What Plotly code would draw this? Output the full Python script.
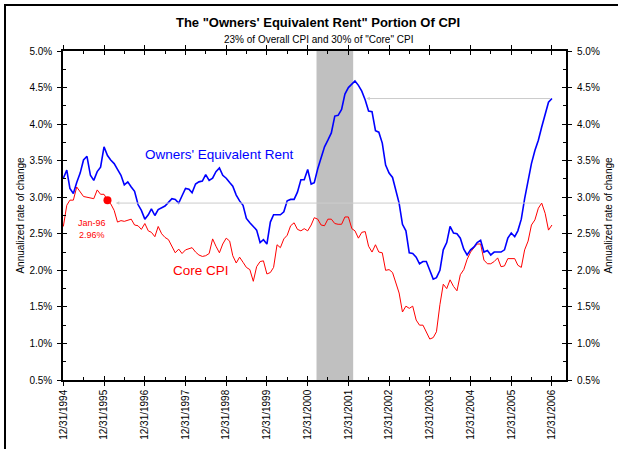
import plotly.graph_objects as go
import pandas as pd

# Monthly observations, Dec-1994 .. Dec-2006 (annualized rate of change, %)
dates = pd.date_range("1995-01-01", periods=145, freq="MS") - pd.Timedelta(days=1)

oer = [3.26, 3.37, 3.12, 3.05, 3.20, 3.33, 3.51, 3.56, 3.30, 3.23,
       3.35, 3.41, 3.69, 3.57, 3.51, 3.46, 3.38, 3.30, 3.17, 3.21,
       3.14, 3.08, 2.90, 2.82, 2.70, 2.76, 2.84, 2.75, 2.83, 2.86,
       2.88, 2.93, 2.98, 2.97, 2.92, 3.02, 3.12, 3.11, 3.06, 3.18,
       3.21, 3.22, 3.31, 3.23, 3.26, 3.35, 3.40, 3.30, 3.26, 3.20,
       3.15, 3.03, 2.95, 2.89, 2.71, 2.65, 2.60, 2.55, 2.38, 2.42,
       2.36, 2.66, 2.76, 2.76, 2.76, 2.80, 2.95, 2.97, 2.97, 3.07,
       3.24, 3.24, 3.38, 3.18, 3.20, 3.39, 3.54, 3.69, 3.78, 3.88,
       4.11, 4.12, 4.20, 4.41, 4.50, 4.55, 4.59, 4.53, 4.45, 4.33,
       4.18, 4.17, 3.91, 3.89, 3.74, 3.44, 3.33, 3.27, 3.12, 2.92,
       2.63, 2.54, 2.24, 2.23, 2.18, 2.09, 2.12, 2.12, 2.00, 1.88,
       1.90, 2.00, 2.28, 2.38, 2.60, 2.51, 2.50, 2.44, 2.29, 2.21,
       2.28, 2.32, 2.38, 2.41, 2.25, 2.27, 2.21, 2.25, 2.25, 2.25,
       2.28, 2.44, 2.51, 2.46, 2.54, 2.70, 2.98, 3.23, 3.46, 3.64,
       3.78, 3.96, 4.14, 4.30, 4.35]

core = [2.60, 2.89, 2.96, 2.96, 3.14, 3.07, 3.01, 3.00, 2.99, 2.98,
        3.10, 3.04, 3.04, 2.96, 2.91, 2.82, 2.66, 2.68, 2.67, 2.68,
        2.70, 2.62, 2.61, 2.56, 2.64, 2.54, 2.52, 2.46, 2.60, 2.50,
        2.45, 2.42, 2.32, 2.24, 2.29, 2.23, 2.28, 2.30, 2.31, 2.25,
        2.21, 2.19, 2.20, 2.23, 2.43, 2.33, 2.24, 2.36, 2.44, 2.40,
        2.20, 2.10, 2.18, 2.11, 2.04, 2.01, 1.85, 2.05, 2.12, 2.13,
        1.95, 1.97, 2.04, 2.35, 2.31, 2.43, 2.48, 2.61, 2.65, 2.56,
        2.54, 2.57, 2.54, 2.62, 2.72, 2.70, 2.62, 2.61, 2.70, 2.70,
        2.64, 2.63, 2.63, 2.73, 2.73, 2.57, 2.54, 2.44, 2.52, 2.53,
        2.33, 2.25, 2.35, 2.25, 2.24, 2.00, 2.01, 1.97, 1.83, 1.69,
        1.43, 1.51, 1.48, 1.51, 1.32, 1.25, 1.25, 1.15, 1.06, 1.08,
        1.16, 1.53, 1.81, 1.75, 1.87, 1.78, 1.72, 1.94, 2.01, 2.15,
        2.25, 2.31, 2.36, 2.36, 2.14, 2.09, 2.09, 2.12, 2.17, 2.05,
        2.06, 2.16, 2.16, 2.16, 2.07, 2.04, 2.28, 2.40, 2.62, 2.69,
        2.85, 2.92, 2.78, 2.55, 2.62]

year_ticks = [f"{y}-12-31" for y in range(1994, 2007)]
year_labels = [f"12/31/{y}" for y in range(1994, 2007)]
mid_ticks = [f"{y}-07-01" for y in range(1995, 2008)]
y_ticks = [0.5, 1.0, 1.5, 2.0, 2.5, 3.0, 3.5, 4.0, 4.5, 5.0]
y_labels = [f"{v:.1f}%" for v in y_ticks]
y_minor = [0.75, 1.25, 1.75, 2.25, 2.75, 3.25, 3.75, 4.25, 4.75]

recession = ("2001-03-20", "2002-02-12")
x_range = ["1994-12-28", "2007-05-06"]
y_range = [0.5, 5.0]

FONT = "Arial, Liberation Sans, sans-serif"
L, R, T, B = 63, 566, 51, 380
PW, PH = R - L, B - T

fig = go.Figure()
fig.add_trace(go.Scatter(x=dates, y=core, mode="lines", name="Core CPI",
                         line=dict(color="#ff0000", width=1)))
fig.add_trace(go.Scatter(x=dates, y=oer, mode="lines", name="Owners' Equivalent Rent",
                         line=dict(color="#0000ff", width=1.6)))
fig.add_trace(go.Scatter(x=[dates[13]], y=[core[13]], mode="markers",
                         marker=dict(color="#ff0000", size=8), showlegend=False))
# helper traces so that the overlay axes exist
fig.add_trace(go.Scatter(x=[None], y=[None], xaxis="x2", yaxis="y", showlegend=False, hoverinfo="skip"))
fig.add_trace(go.Scatter(x=[None], y=[None], xaxis="x", yaxis="y2", showlegend=False, hoverinfo="skip"))
fig.add_trace(go.Scatter(x=[None], y=[None], xaxis="x", yaxis="y3", showlegend=False, hoverinfo="skip"))

fig.add_shape(type="rect", xref="x", yref="paper", x0=recession[0], x1=recession[1],
              y0=0, y1=1, fillcolor="#c0c0c0", line=dict(width=0), layer="below")


def px(x):
    return (x - L) / PW


def py(y):
    return (B - y) / PH


# outer frame
fig.add_shape(type="rect", xref="paper", yref="paper",
              x0=px(5), x1=px(640), y0=py(470), y1=py(5),
              line=dict(color="black", width=2), fillcolor="rgba(0,0,0,0)")

# reference arrows
fig.add_annotation(x="1996-04-15", y=core[141], ax=dates[141], ay=core[141],
                   xref="x", yref="y", axref="x", ayref="y", text="", showarrow=True,
                   arrowhead=2, arrowsize=0.7, arrowwidth=1, arrowcolor="#cccccc", standoff=0)
fig.add_annotation(x="2002-06-10", y=oer[144], ax=dates[144], ay=oer[144],
                   xref="x", yref="y", axref="x", ayref="y", text="", showarrow=True,
                   arrowhead=2, arrowsize=0.7, arrowwidth=1, arrowcolor="#cccccc", standoff=0)

fig.add_annotation(x=px(143), y=py(154), xref="paper", yref="paper", xanchor="left",
                   yanchor="middle", showarrow=False, text="Owners' Equivalent Rent",
                   font=dict(color="#0000ff", size=13.5, family=FONT))
fig.add_annotation(x=px(171), y=py(270), xref="paper", yref="paper", xanchor="left",
                   yanchor="middle", showarrow=False, text="Core CPI",
                   font=dict(color="#ff0000", size=13.5, family=FONT))
fig.add_annotation(x=px(92), y=py(229), xref="paper", yref="paper", xanchor="center",
                   yanchor="middle", showarrow=False, text="Jan-96<br>2.96%",
                   font=dict(color="#ff0000", size=9, family=FONT))
fig.add_annotation(x=px(318), y=py(39), xref="paper", yref="paper", xanchor="center",
                   yanchor="middle", showarrow=False,
                   text="23% of Overall CPI and 30% of \"Core\" CPI",
                   font=dict(color="black", size=10, family=FONT))

axis_common = dict(showgrid=False, zeroline=False, color="black", automargin=False)

fig.update_layout(
    width=618, height=449,
    margin=dict(l=L, r=618 - R, t=T, b=449 - B),
    paper_bgcolor="white", plot_bgcolor="white",
    showlegend=False,
    font=dict(family=FONT, size=10, color="black"),
    title=dict(text="<b>The \"Owners' Equivalent Rent\" Portion Of CPI</b>",
               x=318 / 618, xanchor="center", y=1 - 22 / 449, yanchor="middle",
               font=dict(size=13, family=FONT, color="black")),
    xaxis=dict(type="date", range=x_range, tickvals=year_ticks, ticktext=year_labels,
               tickangle=-90, ticks="outside", ticklen=4, tickcolor="black", tickwidth=1,
               showline=True, linecolor="black", linewidth=1.5, mirror="ticks",
               minor=dict(tickvals=mid_ticks, ticks="inside", ticklen=3, tickcolor="black"),
               tickfont=dict(size=10), **axis_common),
    xaxis2=dict(type="date", range=x_range, overlaying="x", side="bottom", anchor="y",
                tickvals=year_ticks, ticks="inside", ticklen=4, tickcolor="black",
                showticklabels=False, showline=False, mirror="ticks", **axis_common),
    yaxis=dict(range=y_range, tickvals=y_ticks, ticktext=y_labels, ticks="outside",
               ticklen=4, tickcolor="black", showline=True, linecolor="black", linewidth=1.5,
               mirror="ticks", ticklabelstandoff=3,
               minor=dict(tickvals=y_minor, ticks="inside", ticklen=3, tickcolor="black"),
               title=dict(text="Annualized rate of change", font=dict(size=10), standoff=3),
               tickfont=dict(size=10), **axis_common),
    yaxis2=dict(range=y_range, overlaying="y", side="right", anchor="x",
                tickvals=y_ticks, ticktext=y_labels, ticks="outside", ticklen=4,
                tickcolor="black", showline=False, ticklabelstandoff=4,
                title=dict(text="Annualized rate of change", font=dict(size=10), standoff=6),
                tickfont=dict(size=10), **axis_common),
    yaxis3=dict(range=y_range, overlaying="y", side="left", anchor="x",
                tickvals=y_ticks, ticks="inside", ticklen=4, tickcolor="black",
                showticklabels=False, showline=False, mirror="ticks", **axis_common),
)

fig.write_html("out.html", config={"displayModeBar": False},
               post_script="document.body.style.margin='0';")
